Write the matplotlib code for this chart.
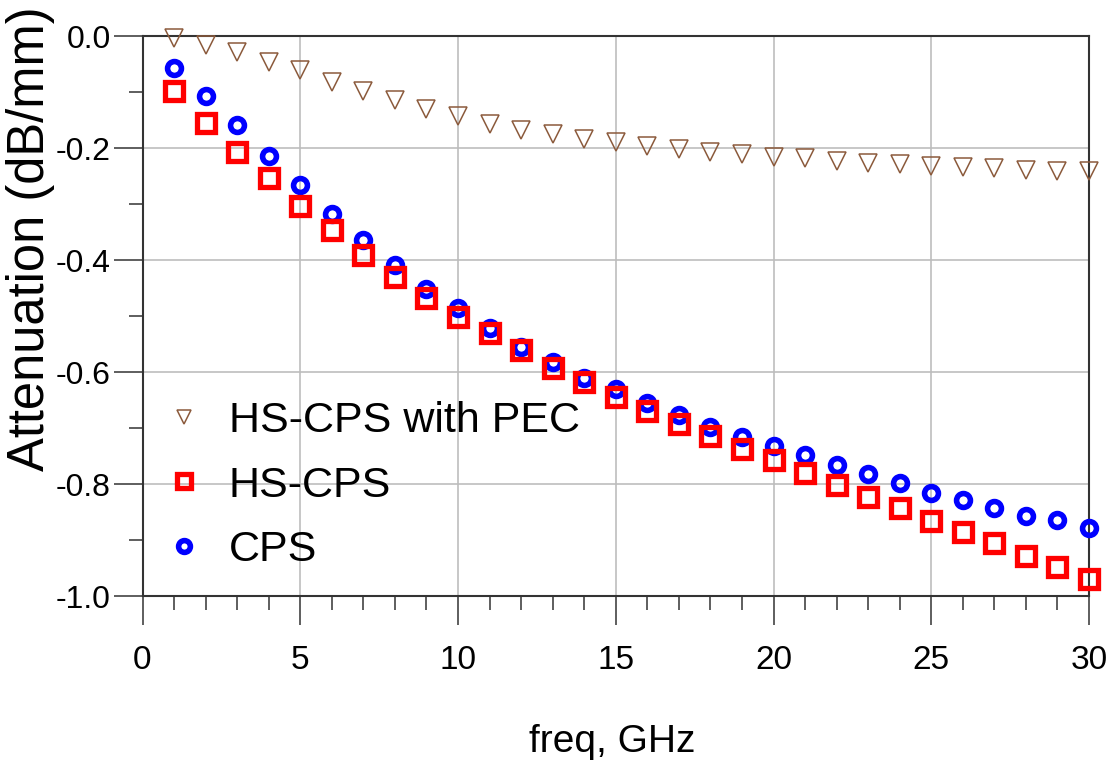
import matplotlib
matplotlib.use("Agg")
import matplotlib.pyplot as plt
from matplotlib.lines import Line2D
import numpy as np

plt.rcParams['font.family'] = ['Liberation Sans', 'DejaVu Sans']

freq = list(range(1, 31))
pec = [-0.004, -0.016, -0.029, -0.046, -0.061, -0.082, -0.099, -0.115, -0.130, -0.142,
       -0.158, -0.167, -0.175, -0.184, -0.189, -0.196, -0.202, -0.207, -0.210, -0.216,
       -0.218, -0.223, -0.226, -0.228, -0.232, -0.234, -0.236, -0.239, -0.241, -0.241]
hs_cps = [-0.099, -0.156, -0.207, -0.254, -0.304, -0.346, -0.391, -0.431, -0.468, -0.502,
          -0.530, -0.561, -0.593, -0.617, -0.644, -0.669, -0.692, -0.714, -0.738, -0.758,
          -0.780, -0.802, -0.823, -0.843, -0.866, -0.886, -0.906, -0.929, -0.948, -0.970]
cps = [-0.058, -0.108, -0.159, -0.215, -0.266, -0.317, -0.364, -0.409, -0.452, -0.486,
       -0.522, -0.555, -0.582, -0.611, -0.631, -0.656, -0.677, -0.698, -0.716, -0.733,
       -0.748, -0.766, -0.782, -0.798, -0.816, -0.829, -0.843, -0.857, -0.865, -0.879]
labels = ["HS-CPS with PEC", "HS-CPS", "CPS"]

brown = '#8b5a3c'
red = '#ff0000'
blue = '#0000ff'

W, H = 1110, 766
fig = plt.figure(figsize=(W / 100, H / 100), dpi=100)
ax = fig.add_axes([142.5 / W, 1 - 596 / H, (1089 - 142.5) / W, (596 - 36) / H])

ax.plot(freq, pec, linestyle='none', marker='v', ms=13, mfc='none', mec=brown, mew=1.1,
        clip_on=False, zorder=3)
ax.plot(freq, cps, linestyle='none', marker='o', ms=10, mfc='none', mec=blue, mew=4.0,
        clip_on=False, zorder=4)
ax.plot(freq, hs_cps, linestyle='none', marker='s', ms=12.5, mfc='none', mec=red, mew=3.8,
        clip_on=False, zorder=5)

ax.set_xlim(0, 30)
ax.set_ylim(-1.0, 0.0)
ax.set_xticks(np.arange(0, 31, 5))
ax.set_xticks(np.arange(0, 31, 1), minor=True)
ax.set_yticks(np.arange(-1.0, 0.01, 0.2))
ax.set_yticks(np.arange(-1.0, 0.01, 0.1), minor=True)
ax.set_yticklabels(["-1.0", "-0.8", "-0.6", "-0.4", "-0.2", "0.0"])

ax.grid(True, which='major', color='#bdbdbd', lw=1.2)
ax.set_axisbelow(True)
ax.tick_params(axis='both', which='major', direction='out', length=21, width=1.1,
               color='#333333')
ax.tick_params(axis='both', which='minor', direction='out', length=10, width=1.1,
               color='#333333')
ax.tick_params(axis='y', labelsize=23, pad=2)
ax.tick_params(axis='x', labelsize=24, pad=14)
for s in ax.spines.values():
    s.set_linewidth(1.5)
    s.set_color('#333333')

fig.text(31 / W, 1 - 239 / H, "Attenuation (dB/mm)", rotation=90, fontsize=36.5,
         ha='center', va='center')
fig.text(612 / W, 1 - 742 / H, "freq, GHz", fontsize=28, ha='center', va='center')

handles = [
    Line2D([], [], linestyle='none', marker='v', ms=10, mfc='none', mec=brown, mew=1.1),
    Line2D([], [], linestyle='none', marker='s', ms=10.5, mfc='none', mec=red, mew=3.8),
    Line2D([], [], linestyle='none', marker='o', ms=8.5, mfc='none', mec=blue, mew=4.0),
]
ax.legend(handles, labels, loc='upper left', bbox_to_anchor=(162 / W, 1 - 401 / H),
          bbox_transform=fig.transFigure, frameon=False, fontsize=31,
          handlelength=1.0, handletextpad=0.55, labelspacing=0.57, borderpad=0,
          borderaxespad=0)

fig.savefig("out.png", dpi=100)
